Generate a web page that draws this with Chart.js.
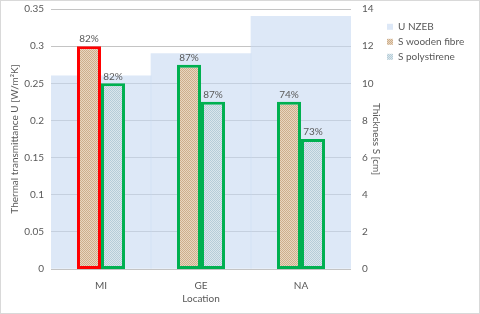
<!DOCTYPE html>
<html>
<head>
<meta charset="utf-8">
<script src="https://cdn.jsdelivr.net/npm/chart.js@4.4.1/dist/chart.umd.min.js"></script>
<style>
  html, body { margin: 0; padding: 0; background: #fff; }
  #wrap { width: 478px; height: 312px; border: 1px solid #d9d9d9; }
</style>
</head>
<body>
<div id="wrap"><canvas id="chart"></canvas></div>
<script>
// values
const locations = ['MI', 'GE', 'NA'];
const uNzeb = [0.26, 0.29, 0.34];          // left axis, W/m2K
const sWoodenFibre = [12, 11, 9];          // right axis, cm
const sPolystirene = [10, 9, 7];           // right axis, cm
const woodenLabels = ['82%', '87%', '74%'];
const polyLabels = ['82%', '87%', '73%'];
const woodenBorders = ['#ff0000', '#00b050', '#00b050'];
const polyBorders = ['#00b050', '#00b050', '#00b050'];

const FONT = 'Lato, "Open Sans", sans-serif';
const TEXT = '#595959';
const LEGEND_W = 97;

// small checker fills like the Excel dotted patterns
function checker(a, b) {
    const c = document.createElement('canvas');
    c.width = 2; c.height = 2;
    const g = c.getContext('2d');
    g.fillStyle = a; g.fillRect(0, 0, 2, 2);
    g.fillStyle = b; g.fillRect(0, 0, 1, 1); g.fillRect(1, 1, 1, 1);
    return g.createPattern(c, 'repeat');
}
const woodFill = checker('#e8d6c0', '#cdae8c');
const polyFill = checker('#dae6ec', '#b6cdd8');
const nzebFill = 'rgba(198, 217, 241, 0.6)';

// percentage labels above the thickness bars
const barLabels = {
    id: 'barLabels',
    afterDatasetsDraw(chart) {
        const ctx = chart.ctx;
        ctx.save();
        ctx.font = '10px ' + FONT;
        ctx.fillStyle = TEXT;
        ctx.textAlign = 'center';
        ctx.textBaseline = 'bottom';
        chart.data.datasets.forEach((ds, i) => {
            if (!ds.pctLabels) return;
            chart.getDatasetMeta(i).data.forEach((bar, j) => {
                ctx.fillText(ds.pctLabels[j], bar.x, bar.y - 2);
            });
        });
        ctx.restore();
    }
};

// keep the legend column at a fixed width so the plot lines up
const legendWidth = {
    id: 'legendWidth',
    beforeLayout(chart) {
        const lg = chart.legend;
        if (!lg || lg.fixedFit) return;
        const fit = lg.fit;
        lg.fit = function () { fit.call(this); this.width = LEGEND_W; };
        lg.fixedFit = true;
    }
};

new Chart(document.getElementById('chart'), {
    type: 'bar',
    data: {
        labels: locations,
        datasets: [
            {
                label: 'U NZEB',
                data: uNzeb,
                yAxisID: 'y',
                grouped: false,
                order: 2,
                backgroundColor: nzebFill,
                borderWidth: 0,
                categoryPercentage: 1,
                barPercentage: 1,
                legendFill: nzebFill
            },
            {
                label: 'S wooden fibre',
                data: sWoodenFibre,
                yAxisID: 'y2',
                order: 1,
                backgroundColor: woodFill,
                borderColor: woodenBorders,
                borderWidth: 3,
                borderSkipped: false,
                categoryPercentage: 0.48,
                barPercentage: 1,
                pctLabels: woodenLabels,
                legendFill: woodFill
            },
            {
                label: 'S polystirene',
                data: sPolystirene,
                yAxisID: 'y2',
                order: 1,
                backgroundColor: polyFill,
                borderColor: polyBorders,
                borderWidth: 3,
                borderSkipped: false,
                categoryPercentage: 0.48,
                barPercentage: 1,
                pctLabels: polyLabels,
                legendFill: polyFill
            }
        ]
    },
    options: {
        responsive: true,
        maintainAspectRatio: false,
        animation: false,
        layout: { padding: { top: 0, right: 0, left: 0, bottom: 8 } },
        plugins: {
            tooltip: { enabled: false },
            legend: {
                position: 'right',
                align: 'start',
                title: { display: true, text: ' ', font: { size: 4 }, padding: { top: 11, bottom: 0 } },
                labels: {
                    color: TEXT,
                    font: { family: FONT, size: 10 },
                    boxWidth: 6,
                    boxHeight: 6,
                    padding: 5,
                    generateLabels(chart) {
                        return chart.data.datasets.map((ds, i) => ({
                            text: ds.label,
                            fillStyle: ds.legendFill,
                            strokeStyle: 'rgba(0,0,0,0)',
                            lineWidth: 0,
                            hidden: false,
                            datasetIndex: i,
                            fontColor: TEXT
                        }));
                    }
                }
            }
        },
        scales: {
            x: {
                grid: { display: false, drawTicks: false },
                border: { display: false },
                ticks: { color: TEXT, font: { family: FONT, size: 10 }, padding: 11 },
                title: { display: true, text: 'Location', color: TEXT, font: { family: FONT, size: 10 }, padding: 0 },
                afterFit(scale) { scale.height = 36; }
            },
            y: {
                position: 'left',
                min: 0,
                max: 0.35,
                ticks: {
                    stepSize: 0.05, color: TEXT, font: { family: FONT, size: 10 }, padding: 7,
                    callback: v => String(+v.toFixed(2))
                },
                grid: { color: '#c4c4c4', drawTicks: false },
                border: { display: false },
                title: { display: true, text: 'Thermal transmittance U [W/m²K]', color: TEXT, font: { family: FONT, size: 10 }, padding: { top: 8, bottom: 0 } },
                afterFit(scale) { scale.width = 50; scale.paddingTop = 8; scale.paddingBottom = 0; }
            },
            y2: {
                position: 'right',
                min: 0,
                max: 14,
                ticks: { stepSize: 2, color: TEXT, font: { family: FONT, size: 10 }, padding: 11 },
                grid: { display: false, drawTicks: false },
                border: { display: false },
                title: { display: true, text: 'Thickness S [cm]', color: TEXT, font: { family: FONT, size: 10 }, padding: 0 },
                afterFit(scale) { scale.width = 31; scale.paddingTop = 8; scale.paddingBottom = 0; }
            }
        }
    },
    plugins: [barLabels, legendWidth]
});
</script>
</body>
</html>
